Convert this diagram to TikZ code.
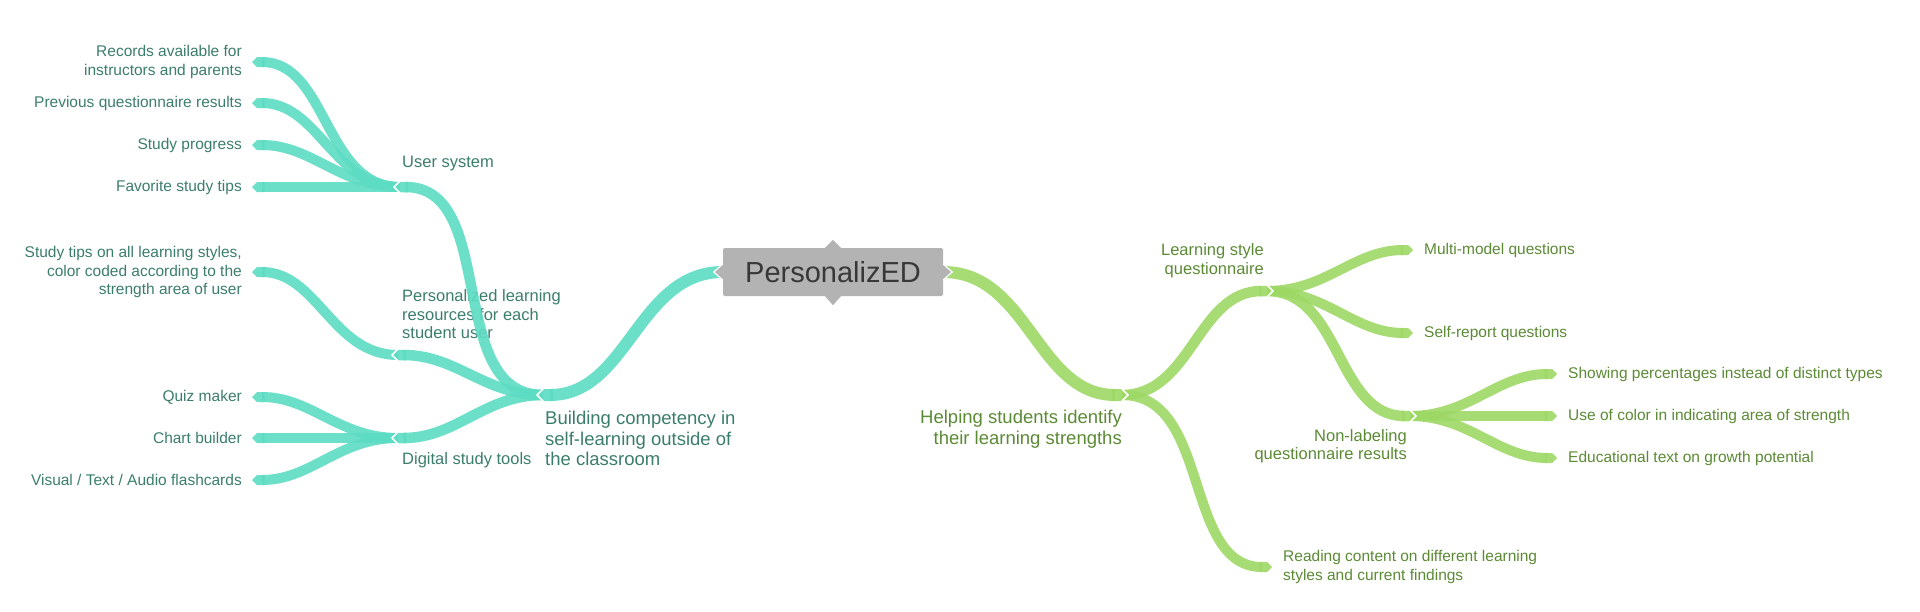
\documentclass[tikz,border=0pt]{standalone}
\usepackage{fontspec}
\setmainfont{Liberation Sans}
\usepackage{tikz}
\usetikzlibrary{arrows.meta, positioning}
\definecolor{tealline}{HTML}{5CDCC3}
\definecolor{tealtext}{HTML}{3B7D6C}
\definecolor{greenline}{HTML}{9DD865}
\definecolor{greentext}{HTML}{5B8A35}
\definecolor{hubgray}{HTML}{B3B3B3}
\definecolor{hubtext}{HTML}{383838}
\tikzstyle{hub}=[fill=hubgray, rounded corners=2pt, minimum width=220pt, minimum height=48pt, inner sep=0pt, text=hubtext, font=\fontsize{29}{34}\selectfont]
\tikzstyle{mainBranch}=[line width=12pt, opacity=0.9, -{Triangle Cap[]}, shorten >=-5pt]
\tikzstyle{subBranch}=[line width=10.5pt, opacity=0.9, -{Triangle Cap[]}, shorten >=-5pt]
\tikzstyle{leafBranch}=[line width=10pt, opacity=0.9, -{Triangle Cap[]}]
\tikzstyle{notch}=[white, line width=1.5pt]
\tikzstyle{leafL}=[anchor=east, align=right, inner xsep=10pt, inner ysep=0pt, text=tealtext, font=\fontsize{15.5}{18.5}\selectfont]
\tikzstyle{leafR}=[anchor=west, align=left, inner xsep=11pt, inner ysep=0pt, text=greentext, font=\fontsize{15.5}{18.5}\selectfont]
\tikzstyle{subL}=[align=left, inner sep=0pt, text=tealtext, font=\fontsize{16.5}{18.5}\selectfont]
\tikzstyle{subR}=[align=right, inner sep=0pt, text=greentext, font=\fontsize{16.5}{18.5}\selectfont]
\tikzstyle{mainL}=[align=left, inner sep=0pt, text=tealtext, font=\fontsize{18.5}{20.5}\selectfont]
\tikzstyle{mainR}=[align=right, inner sep=0pt, text=greentext, font=\fontsize{18.5}{20.5}\selectfont]

\begin{document}
\begin{tikzpicture}[x=1pt, y=-1pt]
    \useasboundingbox (0,0) rectangle (1920,611);

    \node (pz)[hub] at (833,272) {PersonalizED};

    \coordinate (bld) at (543,395);
    \coordinate (us) at (400,187);
    \coordinate (prl) at (398,355);
    \coordinate (dst) at (398,438);
    \coordinate (help) at (1122,395);
    \coordinate (lsq) at (1267,291);
    \coordinate (nlq) at (1410,416);

    \node[mainL, below right=16pt and 2pt of bld] (bldText) {Building competency in\\self-learning outside of\\the classroom};
    \node[subL, above right=16pt and 2pt of us] (usText) {User system};
    \node[subL, above right=16pt and 4pt of prl] (prlText) {Personalized learning\\resources for each\\student user};
    \node[subL, below right=14pt and 4pt of dst] (dstText) {Digital study tools};
    \node[mainR, below left=15pt and 0pt of help] (helpText) {Helping students identify\\their learning strengths};
    \node[subR, above left=13pt and 3pt of lsq] (lsqText) {Learning style\\questionnaire};
    \node[subR, below left=13pt and 3pt of nlq] (nlqText) {Non-labeling\\questionnaire results};

    \node[leafL] (rec) at (252,62) {Records available for\\instructors and parents};
    \node[leafL] (prev) at (252,103) {Previous questionnaire results};
    \node[leafL] (prog) at (252,145) {Study progress};
    \node[leafL] (fav) at (252,187) {Favorite study tips};
    \node[leafL] (tips) at (252,272) {Study tips on all learning styles,\\color coded according to the\\strength area of user};
    \node[leafL] (quiz) at (252,397) {Quiz maker};
    \node[leafL] (chart) at (252,438) {Chart builder};
    \node[leafL] (cards) at (252,480) {Visual / Text / Audio flashcards};

    \node[leafR] (mm) at (1413,250) {Multi-model questions};
    \node[leafR] (sr) at (1413,333) {Self-report questions};
    \node[leafR] (pct) at (1557,374) {Showing percentages instead of distinct types};
    \node[leafR] (col) at (1557,416) {Use of color in indicating area of strength};
    \node[leafR] (edu) at (1557,458) {Educational text on growth potential};
    \node[leafR] (read) at (1272,567) {Reading content on different learning\\styles and current findings};

    \draw[mainBranch, tealline] (pz.west) to[out=180,in=0] (bld);
    \draw[subBranch, tealline] (bld) to[out=180,in=0] (us);
    \draw[subBranch, tealline] (bld) to[out=180,in=0] (prl);
    \draw[subBranch, tealline] (bld) to[out=180,in=0] (dst);
    \draw[leafBranch, tealline] (us) to[out=180,in=0] (rec.east);
    \draw[leafBranch, tealline] (us) to[out=180,in=0] (prev.east);
    \draw[leafBranch, tealline] (us) to[out=180,in=0] (prog.east);
    \draw[leafBranch, tealline] (us) -- (fav.east);
    \draw[leafBranch, tealline] (prl) to[out=180,in=0] (tips.east);
    \draw[leafBranch, tealline] (dst) to[out=180,in=0] (quiz.east);
    \draw[leafBranch, tealline] (dst) -- (chart.east);
    \draw[leafBranch, tealline] (dst) to[out=180,in=0] (cards.east);

    \draw[mainBranch, greenline] (pz.east) to[out=0,in=180] (help);
    \draw[subBranch, greenline] (help) to[out=0,in=180] (lsq);
    \draw[leafBranch, greenline] (help) to[out=0,in=180] (read.west);
    \draw[leafBranch, greenline] (lsq) to[out=0,in=180] (mm.west);
    \draw[leafBranch, greenline] (lsq) to[out=0,in=180] (sr.west);
    \draw[subBranch, greenline] (lsq) to[out=0,in=180] (nlq);
    \draw[leafBranch, greenline] (nlq) to[out=0,in=180] (pct.west);
    \draw[leafBranch, greenline] (nlq) -- (col.west);
    \draw[leafBranch, greenline] (nlq) to[out=0,in=180] (edu.west);

    \foreach \j/\d in {bld/-6, us/-6, prl/-6, dst/-6, help/6, lsq/6, nlq/6}
        \draw[notch] ([shift={(0,-6)}]\j) -- ([shift={(\d,0)}]\j) -- ([shift={(0,6)}]\j);

    \draw[white, fill=hubgray, line width=1.2pt] ([yshift=8pt]pz.west) -- ([xshift=-9pt]pz.west) -- ([yshift=-8pt]pz.west);
    \draw[white, fill=hubgray, line width=1.2pt] ([yshift=8pt]pz.east) -- ([xshift=9pt]pz.east) -- ([yshift=-8pt]pz.east);
    \fill[hubgray] ([xshift=-8pt]pz.north) -- ([yshift=8pt]pz.north) -- ([xshift=8pt]pz.north) -- cycle;
    \fill[hubgray] ([xshift=-8pt]pz.south) -- ([yshift=-9pt]pz.south) -- ([xshift=8pt]pz.south) -- cycle;

\end{tikzpicture}
\end{document}
